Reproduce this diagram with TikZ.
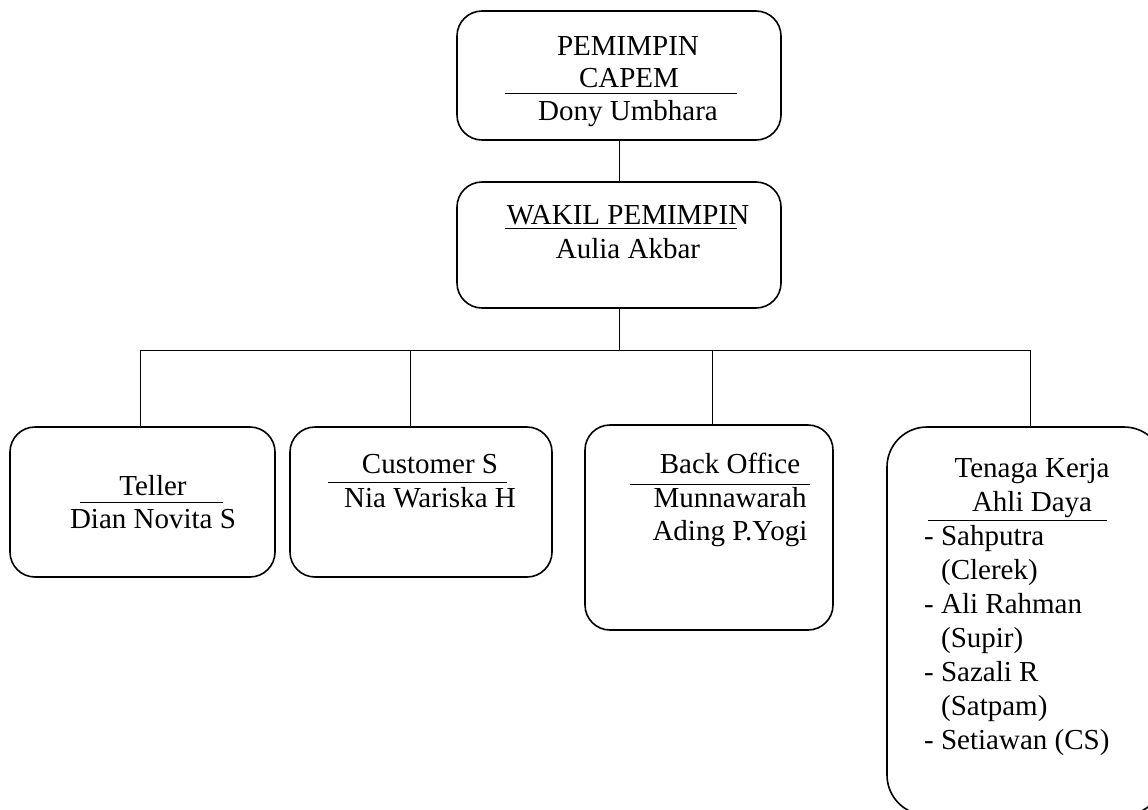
\documentclass[tikz,border=0pt]{standalone}
\usepackage{fontspec}
\setmainfont{Liberation Serif}
\usepackage{tikz}

\begin{document}
\begin{tikzpicture}[
        x=1pt, y=-1pt,
        font=\fontsize{29}{34}\selectfont,
        box/.style  ={draw, line width=1.6pt, rounded corners=25pt, inner sep=0pt},
        txt/.style  ={anchor=base, inner sep=0pt},
        item/.style ={anchor=base west, inner sep=0pt},
        link/.style ={line width=1pt},
        sep/.style  ={line width=1pt},
    ]
        \useasboundingbox (0,0) rectangle (1148,809);

        % --- Pimpinan ---
        \node[box, minimum width=324, minimum height=129] (capem) at (619,75.5) {};
        \node[txt] (capem-a) at (628,55) {PEMIMPIN};
        \node[txt] (capem-b) at (629,87) {CAPEM};
        \draw[sep] (505,93) -- (737,93);
        \node[txt] (capem-c) at (628,120) {Dony Umbhara};

        \node[box, minimum width=324, minimum height=126] (wakil) at (619,245) {};
        \node[txt] (wakil-a) at (628,224) {WAKIL PEMIMPIN};
        \draw[sep] (505,228) -- (737,228);
        \node[txt] (wakil-b) at (628,258) {Aulia Akbar};

        % --- Bagian ---
        \node[box, minimum width=265, minimum height=150] (teller) at (142.5,502) {};
        \node[txt] (teller-a) at (153,495) {Teller};
        \draw[sep] (80,502) -- (223,502);
        \node[txt] (teller-b) at (153,528) {Dian Novita S};

        \node[box, minimum width=262, minimum height=150] (cs) at (421,502) {};
        \node[txt] (cs-a) at (430,473) {Customer S};
        \draw[sep] (328,482) -- (507,482);
        \node[txt] (cs-b) at (430,507) {Nia Wariska H};

        \node[box, minimum width=248, minimum height=205] (bo) at (709,527.5) {};
        \node[txt] (bo-a) at (730,473) {Back Office};
        \draw[sep] (630,484) -- (810,484);
        \node[txt] (bo-b) at (730,507) {Munnawarah};
        \node[txt] (bo-c) at (730,540) {Ading P.Yogi};

        \node[box, rounded corners=40pt, minimum width=277, minimum height=388] (tkad) at (1025.5,621) {};
        \node[txt] (tkad-a) at (1032,477) {Tenaga Kerja};
        \node[txt] (tkad-b) at (1032,511) {Ahli Daya};
        \draw[sep] (928,520) -- (1107,520);
        \foreach \i/\t in {0/{- Sahputra}, 1/{\phantom{- }(Clerek)}, 2/{- Ali Rahman}, 3/{\phantom{- }(Supir)},
                           4/{- Sazali R}, 5/{\phantom{- }(Satpam)}, 6/{- Setiawan (CS)}}
            \node[item] (tkad-\i) at (924,545+34*\i) {\t};

        % --- Garis ---
        \coordinate (bus) at (619,350);
        \coordinate (d1) at (140,350);
        \coordinate (d2) at (410,350);
        \coordinate (d3) at (712,350);
        \coordinate (d4) at (1030,350);
        \draw[link] (capem) -- (wakil);
        \draw[link] (wakil) -- (bus);
        \draw[link] (d1) -- (d4);
        \draw[link] (d1) -- (d1 |- teller.north);
        \draw[link] (d2) -- (d2 |- cs.north);
        \draw[link] (d3) -- (d3 |- bo.north);
        \draw[link] (d4) -- (d4 |- tkad.north);
    \end{tikzpicture}
\end{document}
